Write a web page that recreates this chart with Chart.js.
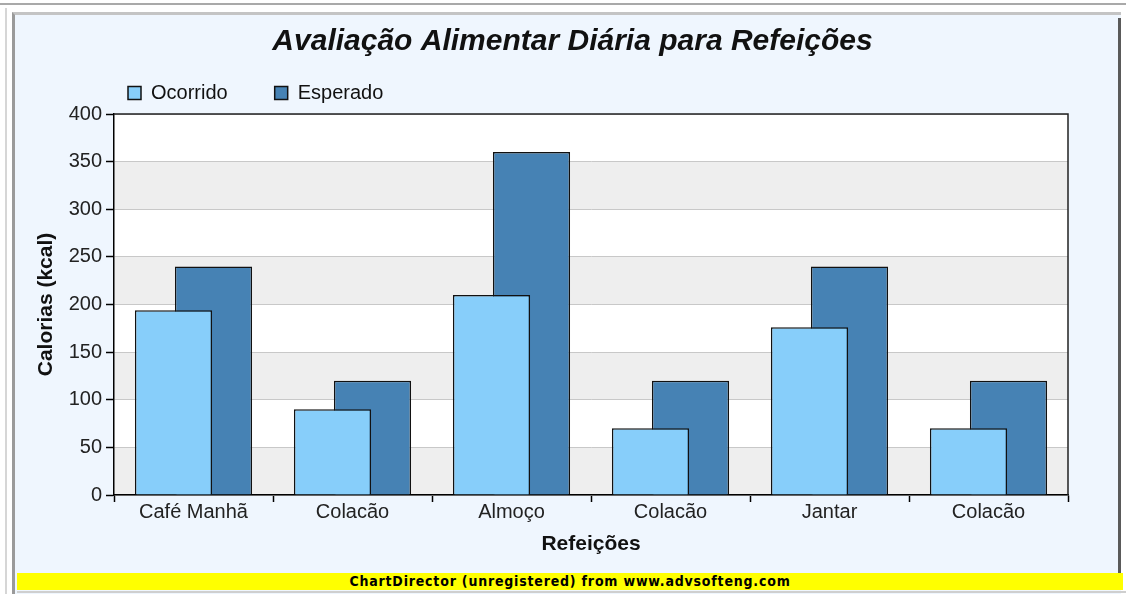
<!DOCTYPE html>
<html>
<head>
<meta charset="utf-8">
<script src="https://cdn.jsdelivr.net/npm/chart.js@4"></script>
<style>
  body { margin: 0; background: #fff; width: 1126px; height: 594px; overflow: hidden; position: relative; font-family: "Liberation Sans", Arial, sans-serif; }
  .abs { position: absolute; }
</style>
</head>
<body>
<div class="abs" style="left:0;top:3px;width:1126px;height:2px;background:#a9a9a9"></div>
<div class="abs" style="left:5px;top:8px;width:2px;height:586px;background:#d6d6d6"></div>
<div class="abs" style="left:12px;top:12px;width:1109px;height:582px;box-sizing:border-box;border-left:3px solid #9a9a9a;border-top:3px solid #c4c4c4;background:#eff6fe"></div>
<div class="abs" style="left:1118px;top:18px;width:3px;height:555px;background:#5a5a5a"></div>
<div class="abs" style="left:17px;top:573px;width:1106px;height:17px;background:#ffff00;text-align:center;font:bold 14px 'DejaVu Sans Condensed','DejaVu Sans',sans-serif;line-height:17px;color:#000;letter-spacing:0.8px">ChartDirector (unregistered) from www.advsofteng.com</div>
<div class="abs" style="left:17px;top:591px;width:1109px;height:2px;background:#cfcfcf"></div>
<canvas id="myChart" class="abs" width="1101" height="556" style="left:17px;top:17px"></canvas>
<script>
const refeicoes = ["Café Manhã", "Colacão", "Almoço", "Colacão", "Jantar", "Colacão"];
const ocorrido = [194, 90, 210, 70, 176, 70];
const esperado = [240, 120, 360, 120, 240, 120];
const yTicks = [0, 50, 100, 150, 200, 250, 300, 350, 400];

const fontFamily = "'Liberation Sans', Arial, sans-serif";

// alternating grey / white bands behind the grid + plot frame
const plotBands = {
  id: "plotBands",
  beforeDraw(chart) {
    const { ctx, chartArea: a, scales: { y } } = chart;
    ctx.save();
    ctx.fillStyle = "#ffffff";
    ctx.fillRect(a.left, a.top, a.right - a.left, a.bottom - a.top);
    ctx.fillStyle = "#eeeeee";
    for (let i = 0; i < yTicks.length - 1; i += 2) {
      const top = y.getPixelForValue(yTicks[i + 1]);
      const bottom = y.getPixelForValue(yTicks[i]);
      ctx.fillRect(a.left, top, a.right - a.left, bottom - top);
    }
    ctx.restore();
  },
  afterDraw(chart) {
    const { ctx, chartArea: a } = chart;
    ctx.save();
    ctx.strokeStyle = "#222";
    ctx.lineWidth = 1.5;
    ctx.beginPath();
    ctx.moveTo(a.left, a.top);
    ctx.lineTo(a.right, a.top);
    ctx.lineTo(a.right, a.bottom);
    ctx.stroke();
    ctx.restore();
  },
};

// move legend to the top-left and centre the title over the whole panel
const legendSpot = {
  id: "legendSpot",
  afterLayout(chart) {
    const lg = chart.legend;
    const w = lg.right - lg.left;
    lg.left = 64;
    lg.right = 64 + w;
    lg.top = 19;
    const t = chart.titleBlock;
    t.left += 30;
    t.right += 30;
  },
};

const config = {
  type: "bar",
  data: {
    labels: refeicoes,
    datasets: [
      {
        label: "Ocorrido",
        data: ocorrido,
        backgroundColor: "#87cefa",
        borderColor: "#111",
        borderWidth: 1.5,
      },
      {
        label: "Esperado",
        data: esperado,
        backgroundColor: "#4682b4",
        borderColor: "#111",
        borderWidth: 1.5,
      },
    ],
  },
  options: {
    responsive: false,
    animation: false,
    categoryPercentage: 0.503,
    barPercentage: 1.93,
    layout: { padding: { left: 0, right: 50, top: 0, bottom: 0 } },
    plugins: {
      title: {
        display: true,
        text: "Avaliação Alimentar Diária para Refeições",
        color: "#111",
        font: { family: fontFamily, size: 30, weight: "bold", style: "italic" },
        padding: { top: 7, bottom: 0 },
      },
      legend: {
        display: true,
        align: "start",
        maxHeight: 54,
        labels: {
          color: "#111",
          boxWidth: 13,
          boxHeight: 13,
          padding: 47,
          font: { family: fontFamily, size: 20 },
        },
      },
      tooltip: { enabled: false },
    },
    scales: {
      x: {
        offset: true,
        afterFit(scale) {
          scale.height = 78;
        },
        grid: {
          offset: true,
          drawOnChartArea: false,
          tickLength: 7,
          tickColor: "#000",
          tickWidth: 1.5,
        },
        border: { color: "#000", width: 1.5 },
        ticks: {
          color: "#222",
          padding: -2,
          font: { family: fontFamily, size: 20 },
        },
        title: {
          display: true,
          text: "Refeições",
          color: "#111",
          font: { family: fontFamily, size: 21, weight: "bold" },
          padding: { top: 0, bottom: 16 },
        },
      },
      y: {
        min: 0,
        max: 400,
        afterFit(scale) {
          scale.width = 97;
        },
        ticks: {
          stepSize: 50,
          color: "#222",
          padding: 4,
          font: { family: fontFamily, size: 20 },
        },
        grid: {
          color: "#c8c8c8",
          tickLength: 8,
          tickColor: "#000",
          tickWidth: 1.5,
        },
        border: { color: "#000", width: 1.5 },
        title: {
          display: true,
          text: "Calorias (kcal)",
          color: "#111",
          font: { family: fontFamily, size: 21, weight: "bold" },
          padding: { top: 17, bottom: 0 },
        },
      },
    },
  },
  plugins: [plotBands, legendSpot],
};

const myChart = new Chart(document.getElementById("myChart").getContext("2d"), config);
</script>
</body>
</html>
